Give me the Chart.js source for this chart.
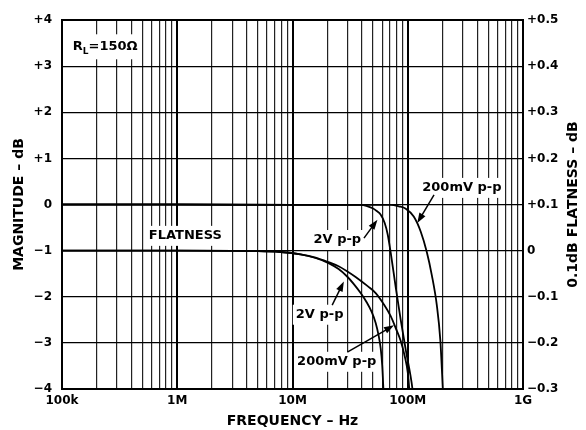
<!DOCTYPE html>
<html>
<head>
<meta charset="utf-8">
<script src="https://cdn.jsdelivr.net/npm/chart.js@4.4.1/dist/chart.umd.min.js"></script>
<style>
html, body { margin: 0; padding: 0; background: #fff; }
</style>
</head>
<body>
<canvas id="myChart" width="586" height="430"></canvas>
<script>
// x axis: frequency in Hz (log), gridlines at 1..9 x each decade
var decades = [1e5, 1e6, 1e7, 1e8, 1e9];
var decadeLabels = ['100k', '1M', '10M', '100M', '1G'];
var mantissas = [1, 2, 3, 4, 5, 6, 7, 8, 9];

// y tick labels
var leftLabels = ['\u22124', '\u22123', '\u22122', '\u22121', '0', '+1', '+2', '+3', '+4'];
var rightLabels = ['\u22120.3', '\u22120.2', '\u22120.1', '0', '+0.1', '+0.2', '+0.3', '+0.4', '+0.5'];

// magnitude (dB), 2V p-p
var mag2VFreq = [1e5, 1e6, 1e7, 3e7, 3.9e7, 4.49e7, 4.96e7, 5.38e7, 5.83e7, 6.31e7, 6.7e7, 7.12e7, 7.87e7, 8.69e7, 9.61e7, 1.099e8, 1.15e8];
var mag2V     = [0, 0, -0.01, -0.01, -0.01, -0.04, -0.08, -0.14, -0.22, -0.4, -0.65, -1.05, -1.8, -2.5, -3.15, -4.0, -4.5];

// magnitude (dB), 200mV p-p
var mag200Freq = [1e5, 1e6, 1e7, 3e7, 6e7, 7.12e7, 8.35e7, 9.61e7, 1.127e8, 1.297e8, 1.463e8, 1.617e8, 1.787e8, 1.917e8, 2.015e8, 2.06e8];
var mag200     = [0, 0, -0.01, -0.01, -0.01, -0.01, -0.04, -0.09, -0.26, -0.59, -1.03, -1.53, -2.18, -2.94, -4.0, -4.5];

// 0.1dB flatness (dB), 2V p-p
var flat2VFreq = [1e5, 1e6, 5e6, 7.87e6, 1.174e7, 1.585e7, 2.056e7, 2.512e7, 2.948e7, 3.392e7, 3.903e7, 4.4e7, 4.864e7, 5.27e7, 5.596e7, 5.825e7, 6.003e7, 6.149e7, 6.25e7];
var flat2V     = [0, 0, -0.001, -0.003, -0.008, -0.016, -0.027, -0.04, -0.055, -0.072, -0.092, -0.112, -0.133, -0.157, -0.185, -0.212, -0.249, -0.301, -0.34];

// 0.1dB flatness (dB), 200mV p-p
var flat200Freq = [1e5, 1e6, 5e6, 7.87e6, 1.174e7, 1.585e7, 2.056e7, 2.512e7, 2.948e7, 3.53e7, 4.489e7, 5.27e7, 6.186e7, 7.115e7, 7.866e7, 8.693e7, 9.417e7, 1e8, 1.031e8, 1.051e8];
var flat200     = [0, 0, -0.001, -0.003, -0.008, -0.015, -0.025, -0.034, -0.044, -0.057, -0.077, -0.092, -0.116, -0.142, -0.168, -0.196, -0.229, -0.264, -0.301, -0.34];

function pts(xs, ys) {
    return xs.map(function (x, i) { return {x: x, y: ys[i]}; });
}

var gridFreqs = [];
decades.slice(0, 4).forEach(function (d) {
    mantissas.forEach(function (m) { gridFreqs.push(d * m); });
});
gridFreqs.push(1e9);

var FONT = 'DejaVu Sans';

// text labels with arrows, placed in data units (freq, dB on left axis)
var notes = [
    {text: '200mV p-p', x: 2.95e8, y: 0.36},
    {text: '2V p-p', x: 2.45e7, y: -0.77},
    {text: 'FLATNESS', x: 1.175e6, y: -0.68},
    {text: '2V p-p', x: 1.72e7, y: -2.39},
    {text: '200mV p-p', x: 2.42e7, y: -3.41}
];
var arrows = [
    {x1: 1.69e8, y1: 0.21, x2: 1.21e8, y2: -0.40},
    {x1: 4.17e7, y1: -0.73, x2: 5.46e7, y2: -0.33},
    {x1: 2.21e7, y1: -2.18, x2: 2.79e7, y2: -1.67},
    {x1: 2.99e7, y1: -3.20, x2: 7.6e7, y2: -2.62}
];

function drawArrow(c, x1, y1, x2, y2) {
    var a = Math.atan2(y2 - y1, x2 - x1), len = 10, w = 3.5;
    c.beginPath();
    c.moveTo(x1, y1);
    c.lineTo(x2 - Math.cos(a) * len * 0.8, y2 - Math.sin(a) * len * 0.8);
    c.lineWidth = 1.5;
    c.stroke();
    c.beginPath();
    c.moveTo(x2, y2);
    c.lineTo(x2 - len * Math.cos(a) + w * Math.sin(a), y2 - len * Math.sin(a) - w * Math.cos(a));
    c.lineTo(x2 - len * Math.cos(a) - w * Math.sin(a), y2 - len * Math.sin(a) + w * Math.cos(a));
    c.closePath();
    c.fill();
}

var annotate = {
    id: 'annotate',
    beforeDatasetsDraw: function (chart) {
        var c = chart.ctx, xs = chart.scales.x, ys = chart.scales.y;
        c.save();
        c.font = 'bold 13px "' + FONT + '"';
        c.textBaseline = 'middle';
        c.textAlign = 'center';
        notes.forEach(function (n) {
            var px = xs.getPixelForValue(n.x), py = ys.getPixelForValue(n.y);
            var w = c.measureText(n.text).width;
            c.fillStyle = '#fff';
            c.fillRect(px - w / 2 - 3, py - 10, w + 6, 20);
            c.fillStyle = '#000';
            c.fillText(n.text, px, py);
        });
        // R_L = 150 ohm
        var rx = xs.getPixelForValue(1.24e5), ry = ys.getPixelForValue(3.43);
        c.fillStyle = '#fff';
        c.fillRect(rx - 3, ry - 12, 70, 25);
        c.fillStyle = '#000';
        c.textAlign = 'left';
        c.fillText('R', rx, ry);
        var wR = c.measureText('R').width;
        c.font = 'bold 9px "' + FONT + '"';
        c.fillText('L', rx + wR, ry + 5);
        var wL = c.measureText('L').width;
        c.font = 'bold 13px "' + FONT + '"';
        c.fillText('=150\u03A9', rx + wR + wL, ry);
        c.restore();
    },
    afterDatasetsDraw: function (chart) {
        var c = chart.ctx, xs = chart.scales.x, ys = chart.scales.y;
        c.save();
        c.strokeStyle = '#000';
        c.fillStyle = '#000';
        arrows.forEach(function (a) {
            drawArrow(c, xs.getPixelForValue(a.x1), ys.getPixelForValue(a.y1),
                xs.getPixelForValue(a.x2), ys.getPixelForValue(a.y2));
        });
        // right axis title reads bottom-to-top like the left one
        c.font = 'bold 14px "' + FONT + '"';
        c.textAlign = 'center';
        c.textBaseline = 'middle';
        c.translate(573, (chart.chartArea.top + chart.chartArea.bottom) / 2);
        c.rotate(-Math.PI / 2);
        c.fillText('0.1dB FLATNESS \u2013 dB', 0, 0);
        c.restore();
    }
};

function line(data, axis) {
    return {
        data: data,
        yAxisID: axis,
        borderColor: '#000',
        borderWidth: 1.8,
        pointRadius: 0,
        fill: false,
        cubicInterpolationMode: 'monotone'
    };
}

var tickFont = {family: FONT, weight: 'bold', size: 12};
var titleFont = {family: FONT, weight: 'bold', size: 14};

var ctx = document.getElementById('myChart').getContext('2d');
var myChart = new Chart(ctx, {
    type: 'line',
    data: {
        datasets: [
            line(pts(mag2VFreq, mag2V), 'y'),
            line(pts(mag200Freq, mag200), 'y'),
            line(pts(flat2VFreq, flat2V), 'y2'),
            line(pts(flat200Freq, flat200), 'y2')
        ]
    },
    options: {
        responsive: false,
        animation: false,
        layout: {padding: {top: 20, left: 0, right: 0, bottom: 0}},
        plugins: {
            legend: {display: false},
            tooltip: {enabled: false}
        },
        scales: {
            x: {
                type: 'logarithmic',
                position: 'bottom',
                min: 1e5,
                max: 1e9,
                afterBuildTicks: function (scale) {
                    scale.ticks = gridFreqs.map(function (v) { return {value: v}; });
                },
                afterFit: function (scale) { scale.height = 41; },
                ticks: {
                    autoSkip: false,
                    maxRotation: 0,
                    padding: 5,
                    color: '#000',
                    font: tickFont,
                    callback: function (v) {
                        var i = decades.indexOf(v);
                        return i >= 0 ? decadeLabels[i] : '';
                    }
                },
                grid: {
                    drawTicks: false,
                    color: function (c) {
                        return c.tick && decades.indexOf(c.tick.value) >= 0 ? '#000' : '#222';
                    },
                    lineWidth: function (c) {
                        return c.tick && decades.indexOf(c.tick.value) >= 0 ? 2 : 1.2;
                    }
                },
                border: {color: '#000', width: 2},
                title: {
                    display: true,
                    text: 'FREQUENCY \u2013 Hz',
                    color: '#000',
                    font: titleFont,
                    padding: {top: 0, bottom: 0}
                }
            },
            y: {
                type: 'linear',
                position: 'left',
                min: -4,
                max: 4,
                afterFit: function (scale) { scale.width = 62; },
                ticks: {
                    stepSize: 1,
                    padding: 10,
                    color: '#000',
                    font: tickFont,
                    callback: function (v) { return leftLabels[Math.round(v) + 4]; }
                },
                grid: {
                    drawTicks: false,
                    color: '#000',
                    lineWidth: function (c) {
                        return c.tick && c.tick.value === 4 ? 2 : 1.2;
                    }
                },
                border: {color: '#000', width: 2},
                title: {
                    display: true,
                    text: 'MAGNITUDE \u2013 dB',
                    color: '#000',
                    font: titleFont,
                    padding: {top: 11, bottom: 0}
                }
            },
            y2: {
                type: 'linear',
                position: 'right',
                min: -0.3,
                max: 0.5,
                afterFit: function (scale) { scale.width = 63; },
                ticks: {
                    stepSize: 0.1,
                    padding: 4,
                    color: '#000',
                    font: tickFont,
                    callback: function (v) { return rightLabels[Math.round(v * 10) + 3]; }
                },
                grid: {drawOnChartArea: false, drawTicks: false},
                border: {color: '#000', width: 2}
            }
        }
    },
    plugins: [annotate]
});
</script>
</body>
</html>
